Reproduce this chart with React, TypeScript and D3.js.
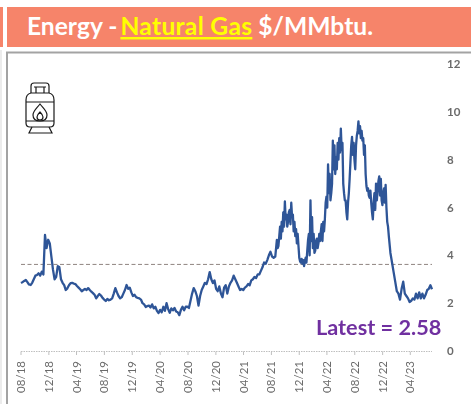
import React, { useEffect, useRef } from "react";
import * as d3 from "d3";

const W = 471;
const H = 404;

const weeklyEarly = [
  2.84,2.88,2.93,2.97,2.88,2.78,2.76,2.85,3.0,3.15,
  3.18,3.25,3.15,3.32,3.2,4.85,4.3,4.65,4.5,3.95,
  3.4,3.0,3.1,3.55,3.5,3.0,2.85,2.75,2.55,2.62,
  2.75,2.84,2.85,2.82,2.8,2.72,2.65,2.58,2.5,2.55,
  2.6,2.55,2.63,2.55,2.48,2.42,2.35,2.2,2.3,2.38,
  2.32,2.22,2.15,2.09,2.18,2.12,2.15,2.2,2.4,2.63,
  2.45,2.3,2.2,2.25,2.4,2.55,2.76,2.6,2.65,2.45,
  2.3,2.35,2.25,2.22,2.2,2.15,2.0,1.95,1.84,1.88,
  1.9,1.82,1.95,1.78,1.85,1.68,1.59,1.72,1.62,1.85,
  1.68,2.0,1.75,1.6,1.78,1.7,1.8,1.65,1.62,1.5,
  1.72,1.85,1.7,1.85,1.85,1.8,2.1,2.4,2.63,2.5,
  2.3,1.9,2.3,2.55,2.7,2.85,2.8,3.0,3.3,3.0,
  2.84,2.95,2.6,2.5,2.7,2.4,2.25,2.65,2.75,2.4,
  2.7,2.85,2.95,3.15,3.0,2.85,2.7,2.55,2.6,2.55,
  2.65,2.7,2.8,2.75,2.95,3.0,3.1,3.05,3.2,3.2,
  3.35,3.5,3.7,3.65,3.8,4.0,4.15,3.95,3.9,3.95,
];
const twiceWeeklyPeak = [
  4.65,4.3,4.4,4.8,5.2,4.7,5.4,5.0,5.8,5.2,
  6.25,5.5,5.7,5.2,5.4,5.8,5.9,5.3,6.2,5.6,
  5.7,5.0,5.4,4.8,5.1,4.5,4.9,4.4,3.9,3.75,
  3.7,3.85,3.65,3.8,3.55,3.75,3.9,3.7,4.2,4.65,
  4.9,4.0,6.3,4.6,5.6,4.3,4.9,4.1,4.2,4.6,
  4.7,4.3,4.5,4.9,4.6,5.0,5.3,4.6,5.4,5.0,
  5.5,6.2,6.45,6.0,7.8,6.6,7.4,6.3,6.6,7.0,
  8.8,7.6,8.6,7.4,8.1,7.6,8.7,8.0,8.9,8.3,
  9.3,8.4,8.7,7.0,6.6,6.3,6.3,5.8,5.5,6.2,
  6.6,7.2,7.9,8.6,8.95,8.2,8.7,8.0,7.6,8.6,
  9.0,9.2,9.6,9.1,9.4,8.9,9.2,8.8,8.9,8.2,
  8.6,7.4,6.9,6.7,6.8,6.5,6.4,6.7,6.2,5.8,
  5.5,6.2,6.6,5.9,7.0,6.3,6.7,7.1,7.3,6.5,
  7.2,6.3,6.1,6.6,6.8,6.2,6.95,6.0,5.4,5.2,
];
const weeklyLate = [
  4.8,4.1,3.7,3.3,2.9,2.5,2.4,2.15,2.6,2.9,
  2.4,2.3,2.2,2.05,2.1,2.2,2.15,2.4,2.2,2.45,
  2.2,2.4,2.2,2.35,2.55,2.6,2.75,2.58,
];

const averageValue = 3.62;
const yTicks = [0, 2, 4, 6, 8, 10, 12];
const xTickLabels = ["08/18","12/18","04/19","08/19","12/19","04/20","08/20","12/20","04/21","08/21","12/21","04/22","08/22","12/22","04/23"];
const titleParts = ["Energy - ", "Natural Gas", " $/MMbtu."];
const latestLabel = "Latest = 2.58";

const FONT = "Lato, 'Open Sans', sans-serif";
const parseMonth = d3.timeParse("%m/%y");

export default function App() {
  const ref = useRef<SVGSVGElement | null>(null);

  useEffect(() => {
    const svg = d3.select(ref.current!);
    svg.selectAll("*").remove();

    const start = new Date(2018, 7, 1);
    const n = weeklyEarly.length;
    const points: [Date, number][] = [
      ...weeklyEarly.map((v, i) => [d3.timeDay.offset(start, i * 7), v] as [Date, number]),
      ...twiceWeeklyPeak.map((v, i) => [d3.timeHour.offset(start, (n * 7 + i * 3.5) * 24), v] as [Date, number]),
      ...weeklyLate.map((v, i) => [d3.timeDay.offset(start, (n + twiceWeeklyPeak.length / 2 + i) * 7), v] as [Date, number]),
    ];
    const x = d3.scaleTime().domain([start, points[points.length - 1][0]]).range([21, 432]);
    const y = d3.scaleLinear().domain([0, 12]).range([351, 64]);

    const defs = svg.append("defs");
    defs.append("filter").attr("id", "soft").append("feGaussianBlur").attr("stdDeviation", 0.35);

    // header
    svg.append("rect").attr("x", 0).attr("y", 7).attr("width", 3).attr("height", 40).attr("fill", "#f6846a");
    svg.append("rect").attr("x", 7).attr("y", 7).attr("width", 464).attr("height", 40).attr("fill", "#f6846a");
    const title = svg.append("text").attr("x", 27).attr("y", 35).attr("font-family", FONT)
      .attr("font-weight", 700).attr("font-size", 24.6).attr("fill", "#fff").style("white-space", "pre");
    title.append("tspan").text(titleParts[0]);
    title.append("tspan").text(titleParts[1]).attr("dx", -3).attr("fill", "#ffff00")
      .attr("text-decoration", "underline").style("letter-spacing", "0.3px");
    title.append("tspan").text(titleParts[2]);

    // frame
    svg.append("line").attr("x1", 1).attr("x2", 1).attr("y1", 50).attr("y2", H).attr("stroke", "#d9d9d9").attr("stroke-width", 1);
    svg.append("path").attr("d", `M7,${H}V52.5H${W}`).attr("fill", "none").attr("stroke", "#a3a3a3").attr("stroke-width", 2);

    const g = svg.append("g").attr("filter", "url(#soft)");

    // x axis
    g.append("line").attr("x1", 21).attr("x2", 432).attr("y1", 351.5).attr("y2", 351.5)
      .attr("stroke", "#bfbfbf").attr("stroke-dasharray", "1.5 1");
    xTickLabels.forEach((label) => {
      const d = parseMonth(label)!;
      const px = x(d);
      g.append("line").attr("x1", px).attr("x2", px).attr("y1", 351.5).attr("y2", 355).attr("stroke", "#bfbfbf");
      g.append("text").attr("transform", `translate(${px + 4},361) rotate(-90)`).attr("text-anchor", "end")
        .attr("font-family", FONT).attr("font-size", 11.5).attr("fill", "#6b6b6b").text(label);
    });

    // y labels
    yTicks.forEach((t) => {
      g.append("text").attr("x", 447).attr("y", y(t) + 4).attr("font-family", FONT).attr("font-weight", 700)
        .attr("font-size", 11.5).attr("fill", "#6b6b6b").text(String(t));
    });

    // average
    g.append("line").attr("x1", 21).attr("x2", 432).attr("y1", y(averageValue)).attr("y2", y(averageValue))
      .attr("stroke", "#8f8480").attr("stroke-width", 1).attr("stroke-dasharray", "4 2.5");

    // series
    const line = d3.line<[Date, number]>().x((p) => x(p[0])).y((p) => y(p[1]));
    g.append("path").datum(points).attr("d", line).attr("fill", "none").attr("stroke", "#2f5597")
      .attr("stroke-width", 2.3).attr("stroke-linejoin", "round");

    // latest label
    svg.append("text").attr("x", 316).attr("y", 335).attr("font-family", FONT).attr("font-weight", 700)
      .attr("font-size", 21.7).attr("fill", "#7030a0").text(latestLabel);

    // gas cylinder icon
    const icon = svg.append("g").attr("fill", "none").attr("stroke", "#1a1a1a").attr("stroke-width", 1.2);
    icon.append("path").attr("d", "M31,93V86a3,3 0 0 1 3,-3H46a3,3 0 0 1 3,3V93");
    icon.append("path").attr("d", "M36,93V87M44,93V87M34,87H46");
    icon.append("path").attr("d", "M31,93H49Q54,94 54,100V123Q54,127 50,127H30Q26,127 26,123V100Q26,94 31,93Z");
    icon.append("path").attr("d", "M26,102H54M26,121H54");
    icon.append("path").attr("d", "M40,104C36,109 33,111 33,115C33,119 36,121 40,121C44,121 47,119 47,115C47,111 44,109 40,104Z");
    icon.append("path").attr("d", "M40,112C38,114 37,116 37,117C37,119 38,120 40,120C42,120 43,119 43,117C43,116 42,114 40,112Z");
    icon.append("path").attr("d", "M32,127L29,133H52L49,127");
  }, []);

  return (
    <svg
      ref={ref}
      width={W}
      height={H}
      style={{ position: "absolute", left: 0, top: 0, background: "#fff" }}
    />
  );
}
